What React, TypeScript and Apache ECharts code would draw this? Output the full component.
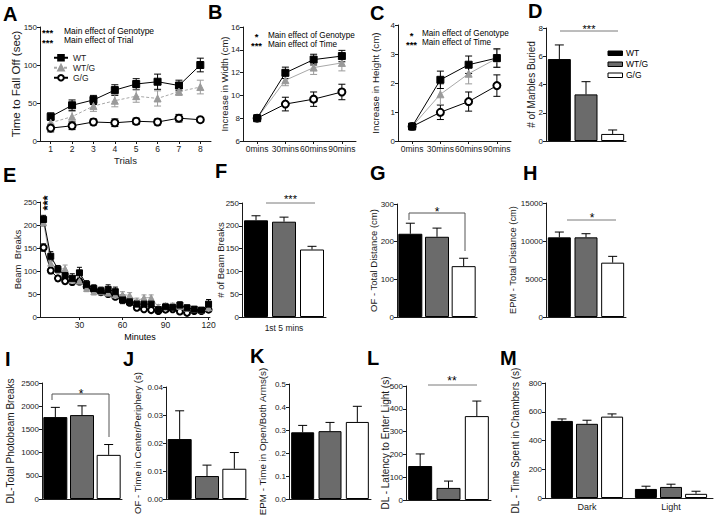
import React, { useEffect, useRef } from 'react';
import * as echarts from 'echarts';

const SANS = '"Liberation Sans", Arial, Helvetica, sans-serif';
const INK = '#1a1a1a';
const GRAYBAR = '#6b6b6b';

// ---------- data ----------
const groupNames = ['WT', 'WT/G', 'G/G'];
const barFills = ['#000000', GRAYBAR, '#ffffff'];

// A: rotarod
const rotaTrials = [1, 2, 3, 4, 5, 6, 7, 8];
const rotaWT = [32, 47, 54, 67, 75, 78, 73, 100];
const rotaWTErr = [5, 7, 6, 7, 7, 10, 7, 9];
const rotaWTG = [24, 32, 46, 53, 59, 56, 65, 71];
const rotaWTGErr = [5, 7, 7, 8, 8, 10, 5, 9];
const rotaGG = [17, 20, 25, 24, 26, 25, 30, 28];
const rotaGGErr = [5, 5, 4, 5, 4, 4, 5, 3];

// B / C: growth
const timeCats = ['0mins', '30mins', '60mins', '90mins'];
const widthWT = [8.0, 11.98, 13.14, 13.45];
const widthWTErr = [0.08, 0.5, 0.47, 0.5];
const widthWTG = [8.0, 11.33, 12.44, 12.85];
const widthWTGErr = [0.08, 0.48, 0.6, 0.7];
const widthGG = [8.0, 9.24, 9.67, 10.3];
const widthGGErr = [0.08, 0.6, 0.63, 0.68];
const heightWT = [0.5, 2.11, 2.63, 2.86];
const heightWTErr = [0.04, 0.3, 0.3, 0.32];
const heightWTG = [0.5, 1.61, 2.32, 2.85];
const heightWTGErr = [0.04, 0.35, 0.35, 0.3];
const heightGG = [0.5, 0.99, 1.36, 1.91];
const heightGGErr = [0.04, 0.25, 0.33, 0.37];

// D: marbles
const marbles = [5.8, 3.3, 0.5];
const marblesErr = [1.0, 0.9, 0.28];

// E: beam breaks over time
const minutes = [5, 10, 15, 20, 25, 30, 35, 40, 45, 50, 55, 60, 65, 70, 75, 80, 85, 90, 95, 100, 105, 110, 115, 120];
const beamWT = [212, 132, 104, 90, 84, 96, 71, 62, 57, 60, 55, 37, 33, 28, 28, 28, 16, 22, 21, 26, 20, 17, 15, 28];
const beamWTErr = [9, 10, 8, 10, 10, 12, 8, 8, 8, 10, 10, 8, 8, 8, 8, 8, 6, 6, 6, 7, 6, 6, 5, 10];
const beamWTG = [205, 117, 104, 105, 80, 78, 62, 55, 55, 52, 48, 49, 47, 35, 42, 42, 22, 25, 25, 23, 19, 17, 15, 20];
const beamWTGErr = [8, 8, 7, 8, 8, 8, 7, 7, 7, 7, 7, 6, 6, 6, 6, 6, 5, 5, 5, 5, 5, 5, 5, 6];
const beamGG = [151, 101, 84, 78, 76, 77, 66, 59, 54, 50, 44, 41, 31, 20, 17, 15, 13, 16, 17, 12, 9, 13, 13, 16];
const beamGGErr = [8, 7, 6, 6, 6, 6, 6, 6, 6, 6, 5, 5, 5, 5, 5, 5, 4, 4, 4, 4, 4, 4, 4, 5];

// F..L: single-measure bars (WT, WT/G, G/G)
const firstFive = [212, 209, 148];
const firstFiveErr = [10, 10, 7];
const ofDistance = [221, 213, 135];
const ofDistanceErr = [28, 23, 21];
const epmDistance = [10480, 10480, 7150];
const epmDistanceErr = [700, 480, 830];
const dlBreaks = [1765, 1808, 951];
const dlBreaksErr = [210, 200, 223];
const ofCenter = [0.0214, 0.0082, 0.0108];
const ofCenterErr = [0.0101, 0.0039, 0.0058];
const epmOpen = [0.29, 0.295, 0.335];
const epmOpenErr = [0.03, 0.038, 0.068];
const dlLatency = [149, 53, 368];
const dlLatencyErr = [53, 30, 66];

// M: chambers
const chamberCats = ['Dark', 'Light'];
const chamberWT = [536, 63];
const chamberWTErr = [14, 19];
const chamberWTG = [516, 77];
const chamberWTGErr = [25, 19];
const chamberGG = [566, 29];
const chamberGGErr = [19, 18];

// ---------- helpers ----------
function errRender(color: string, cap: number, both: boolean, step = 0) {
  return (params: any, api: any) => {
    const x = api.value(0);
    const v = api.value(1);
    const e = api.value(2);
    const k = step ? api.value(3) : 1;
    const top = api.coord([x, v + e]);
    const base = api.coord([x, both ? v - e : v]);
    const cx = top[0] + (k - 1) * step;
    const s = { stroke: color, lineWidth: 1 };
    const children: any[] = [
      { type: 'line', shape: { x1: cx, y1: top[1], x2: cx, y2: base[1] }, style: s },
      { type: 'line', shape: { x1: cx - cap, y1: top[1], x2: cx + cap, y2: top[1] }, style: s },
    ];
    if (both) children.push({ type: 'line', shape: { x1: cx - cap, y1: base[1], x2: cx + cap, y2: base[1] }, style: s });
    return { type: 'group', children };
  };
}

const plain = (v: number) => String(v);

function buildOption() {
  const grid: any[] = [];
  const xAxis: any[] = [];
  const yAxis: any[] = [];
  const series: any[] = [];
  const axisLine = { show: true, onZero: false, lineStyle: { color: INK, width: 1 } };
  const tick = { show: true, length: 3, lineStyle: { color: INK, width: 1 } };
  const label = { fontFamily: SANS, fontSize: 8, color: INK, margin: 3 };

  function panel(box: any, y: any, x: any) {
    const gi = grid.length;
    grid.push({ ...box, containLabel: false, outerBoundsMode: 'none' });
    xAxis.push({ gridIndex: gi, axisLine, splitLine: { show: false }, nameMoveOverlap: false, ...x });
    yAxis.push({
      type: 'value', gridIndex: gi, min: y.min, max: y.max, interval: y.interval,
      name: y.name, nameLocation: 'middle', nameGap: y.gap, nameRotate: 90, nameMoveOverlap: false,
      nameTextStyle: { fontFamily: SANS, fontSize: y.fs, color: INK },
      axisLine, axisTick: tick, axisLabel: { ...label, formatter: y.fmt || plain }, splitLine: { show: false },
    });
    return gi;
  }

  const catLineX = (cats: string[]) => ({
    type: 'category', data: cats, boundaryGap: true,
    axisTick: { ...tick, alignWithLabel: true }, axisLabel: { ...label, fontSize: 8.5, interval: 0 },
  });
  const barX = (extra: any = {}) => ({
    type: 'category', data: groupNames, axisTick: { show: false }, axisLabel: { show: false }, ...extra,
  });

  const styles: any = {
    WT: { symbol: 'rect', color: '#000', err: '#000', line: { color: '#000', width: 1 } },
    'WT/G': { symbol: 'triangle', color: '#9a9a9a', err: '#9a9a9a', line: { color: '#a8a8a8', width: 1 } },
    'G/G': { symbol: 'emptyCircle', color: '#000', err: '#000', line: { color: '#000', width: 1 } },
  };

  function lineSet(gi: number, name: string, xs: any[] | null, ys: number[], errs: number[], size: number, cap: number, lineType: any = 'solid') {
    const st = styles[name];
    series.push({
      type: 'custom', name: 'err-' + name + '-' + gi, xAxisIndex: gi, yAxisIndex: gi, z: 2, silent: true,
      data: ys.map((v, i) => [xs ? xs[i] : i, v, errs[i]]),
      renderItem: errRender(st.err, cap, true),
    });
    series.push({
      type: 'line', name, xAxisIndex: gi, yAxisIndex: gi, z: 3,
      data: xs ? ys.map((v, i) => [xs[i], v]) : ys,
      symbol: st.symbol, symbolSize: size, showAllSymbol: true,
      itemStyle: { color: st.color, borderColor: st.symbol === 'emptyCircle' ? '#000' : st.color, borderWidth: 1 },
      lineStyle: { ...st.line, type: lineType },
    });
  }

  function barSet(gi: number, vals: number[], errs: number[], width: number) {
    series.push({
      type: 'bar', name: 'bars-' + gi, xAxisIndex: gi, yAxisIndex: gi, z: 2, barWidth: width,
      data: vals.map((v, i) => ({ value: v, itemStyle: { color: barFills[i] } })),
      itemStyle: { borderColor: '#000', borderWidth: 1 },
    });
    series.push({
      type: 'custom', name: 'barerr-' + gi, xAxisIndex: gi, yAxisIndex: gi, z: 3, silent: true,
      data: vals.map((v, i) => [i, v, errs[i]]),
      renderItem: errRender('#000', 4.5, false),
    });
  }

  // A
  const gA = panel({ left: 40, top: 27, width: 171, height: 114 },
    { min: 0, max: 150, interval: 50, name: 'Time to Fall Off (sec)', gap: 18, fs: 11.5 },
    {
      type: 'value', min: 0.5, max: 8.5, name: 'Trials', nameLocation: 'middle', nameGap: 14,
      nameTextStyle: { fontFamily: SANS, fontSize: 9.5, color: INK },
      axisTick: { ...tick, customValues: rotaTrials }, axisLabel: { ...label, fontSize: 8.5, customValues: rotaTrials },
    });
  lineSet(gA, 'WT', rotaTrials, rotaWT, rotaWTErr, 7, 3.5);
  lineSet(gA, 'WT/G', rotaTrials, rotaWTG, rotaWTGErr, 7, 3.5, [3, 2]);
  lineSet(gA, 'G/G', rotaTrials, rotaGG, rotaGGErr, 7, 3.5);

  // B
  const gB = panel({ left: 243, top: 27, width: 113, height: 114 },
    { min: 6, max: 16, interval: 2, name: 'Increase in Width (cm)', gap: 14, fs: 9.5 }, catLineX(timeCats));
  lineSet(gB, 'G/G', null, widthGG, widthGGErr, 7, 3.5);
  lineSet(gB, 'WT/G', null, widthWTG, widthWTGErr, 7, 3.5);
  lineSet(gB, 'WT', null, widthWT, widthWTErr, 7, 3.5);

  // C
  const gC = panel({ left: 398, top: 25, width: 113, height: 116 },
    { min: 0, max: 4, interval: 1, name: 'Increase in Height (cm)', gap: 18, fs: 9.8 }, catLineX(timeCats));
  lineSet(gC, 'G/G', null, heightGG, heightGGErr, 7, 3.5);
  lineSet(gC, 'WT/G', null, heightWTG, heightWTGErr, 7, 3.5);
  lineSet(gC, 'WT', null, heightWT, heightWTErr, 7, 3.5);

  // D
  const gD = panel({ left: 546, top: 28, width: 80, height: 113 },
    { min: 0, max: 8, interval: 2, name: '# of Marbles Buried', gap: 10, fs: 10 }, barX());
  barSet(gD, marbles, marblesErr, 23);

  // E
  const eTicks = [30, 60, 90, 120];
  const gE = panel({ left: 40, top: 202, width: 170, height: 115 },
    { min: 0, max: 250, interval: 50, name: 'Beam  Breaks', gap: 18, fs: 9.5 },
    {
      type: 'value', min: 2.5, max: 121,
      axisTick: { ...tick, customValues: eTicks }, axisLabel: { ...label, fontSize: 8.5, customValues: eTicks },
    });
  lineSet(gE, 'G/G', minutes, beamGG, beamGGErr, 6, 2.5);
  lineSet(gE, 'WT/G', minutes, beamWTG, beamWTGErr, 6, 2.5);
  lineSet(gE, 'WT', minutes, beamWT, beamWTErr, 6, 2.5);

  // F
  const gF = panel({ left: 242, top: 203, width: 84, height: 114 },
    { min: 0, max: 250, interval: 50, name: '# of Beam Breaks', gap: 17, fs: 9.5 },
    barX({ name: '1st 5 mins', nameLocation: 'middle', nameGap: 6, nameTextStyle: { fontFamily: SANS, fontSize: 8.5, color: INK } }));
  barSet(gF, firstFive, firstFiveErr, 24);

  // G
  const gG = panel({ left: 397, top: 204, width: 80, height: 113 },
    { min: 0, max: 300, interval: 100, name: 'OF - Total Distance (cm)', gap: 19, fs: 9.5 }, barX());
  barSet(gG, ofDistance, ofDistanceErr, 24);

  // H
  const gH = panel({ left: 546, top: 203, width: 80, height: 114 },
    { min: 0, max: 15000, interval: 5000, name: 'EPM - Total Distance (cm)', gap: 29, fs: 9.3 }, barX());
  barSet(gH, epmDistance, epmDistanceErr, 23);

  // I
  const gI = panel({ left: 42, top: 383, width: 80, height: 116 },
    { min: 0, max: 2500, interval: 500, name: 'DL-Total Photobeam Breaks', gap: 27, fs: 10 }, barX());
  barSet(gI, dlBreaks, dlBreaksErr, 24);

  // J
  const gJ = panel({ left: 166, top: 387, width: 82, height: 112 },
    { min: 0, max: 0.04, interval: 0.01, name: 'OF - Time in Center/Periphery (s)', gap: 24, fs: 9.6, fmt: (v: number) => v.toFixed(2) }, barX());
  barSet(gJ, ofCenter, ofCenterErr, 24);

  // K
  const gK = panel({ left: 289, top: 384, width: 82, height: 115 },
    { min: 0, max: 0.5, interval: 0.1, name: 'EPM - Time in Open/Both Arms(s)', gap: 22, fs: 9.8, fmt: (v: number) => v.toFixed(1) }, barX());
  barSet(gK, epmOpen, epmOpenErr, 23);

  // L
  const gL = panel({ left: 406, top: 386, width: 85, height: 114 },
    { min: 0, max: 500, interval: 100, name: 'DL - Latency to Enter Light (s)', gap: 16, fs: 10 }, barX());
  barSet(gL, dlLatency, dlLatencyErr, 24);

  // M
  const gM = panel({ left: 545, top: 383, width: 168, height: 115 },
    { min: 0, max: 800, interval: 200, name: 'DL - Time Spent in Chambers (s)', gap: 25, fs: 10 },
    { type: 'category', data: chamberCats, axisTick: { show: false }, axisLabel: { ...label, fontSize: 9, margin: 4 } });
  const chamberSets = [[chamberWT, chamberWTErr], [chamberWTG, chamberWTGErr], [chamberGG, chamberGGErr]];
  chamberSets.forEach(([vals], k) => {
    series.push({
      type: 'bar', name: groupNames[k], xAxisIndex: gM, yAxisIndex: gM, z: 2, barWidth: 22, barGap: '14%',
      data: vals, itemStyle: { color: barFills[k], borderColor: '#000', borderWidth: 1 },
    });
  });
  chamberSets.forEach(([vals, errs], k) => {
    series.push({
      type: 'custom', name: 'chamberErr-' + k, xAxisIndex: gM, yAxisIndex: gM, z: 3, silent: true,
      data: vals.map((v, i) => [i, v, errs[i], k]),
      renderItem: errRender('#000', 4.5, false, 25),
    });
  });

  // ---------- graphics: panel letters, annotations, D legend ----------
  const g: any[] = [];
  const letter = (t: string, x: number, y: number) => g.push({
    type: 'text', x, y, silent: true,
    style: { text: t, font: 'bold 20px "Liberation Sans", Arial, sans-serif', fill: '#000', textVerticalAlign: 'top', verticalAlign: 'top' },
  });
  letter('A', 3, 4); letter('B', 208, 2); letter('C', 370, 3); letter('D', 528, 1);
  letter('E', 3, 165); letter('F', 215, 161); letter('G', 370, 163); letter('H', 523, 163);
  letter('I', 5, 349); letter('J', 123, 349); letter('K', 250, 346); letter('L', 367, 348); letter('M', 500, 348);

  const txt = (t: string, x: number, y: number, align = 'left', size = 8.5, weight = 'normal', lh?: number, rot = 0) => g.push({
    type: 'text', x, y, rotation: rot, silent: true,
    style: {
      text: t, fontFamily: SANS, fontSize: size, fontWeight: weight, fill: '#000', lineHeight: lh,
      textAlign: align, align, textVerticalAlign: 'middle', verticalAlign: 'middle',
    },
  });
  const seg = (x1: number, y1: number, x2: number, y2: number, c = '#7a7a7a') => g.push({
    type: 'line', silent: true, shape: { x1, y1, x2, y2 }, style: { stroke: c, lineWidth: 1 },
  });
  const bracket = (pts: number[][]) => g.push({
    type: 'polyline', silent: true, shape: { points: pts }, style: { stroke: '#555', lineWidth: 1, fill: null },
  });

  // A annotations
  txt('***\n***', 42, 37.5, 'left', 9.5, 'bold', 9.5);
  txt('Main effect of Genotype\nMain effect of Trial', 64, 35.5, 'left', 8.5, 'normal', 9);
  // B annotations
  txt('*\n***', 256.5, 41, 'center', 9.5, 'bold', 9.5);
  txt('Main effect of Genotype\nMain effect of Time', 268, 39.5, 'left', 8.2, 'normal', 9);
  // C annotations
  txt('*\n***', 411.5, 40, 'center', 9.5, 'bold', 9.5);
  txt('Main effect of Genotype\nMain effect of Time', 422, 38.2, 'left', 8.2, 'normal', 8.6);

  // D legend
  const legY = [51, 62, 73];
  groupNames.forEach((n, i) => {
    g.push({ type: 'rect', silent: true, shape: { x: 608, y: legY[i], width: 14.5, height: 4.5 }, style: { fill: barFills[i], stroke: '#000', lineWidth: 1 } });
  });
  txt(groupNames.join('\n'), 626, 64, 'left', 8.5, 'normal', 11);

  // significance marks
  seg(560, 31, 618, 31); txt('***', 589, 29, 'center', 11);
  seg(266, 203, 315, 203); txt('***', 290.5, 199, 'center', 11);
  bracket([[409, 220], [409, 213], [465, 213], [465, 251]]); txt('*', 437, 212, 'center', 12);
  seg(567, 220, 616, 220); txt('*', 592, 218, 'center', 12);
  bracket([[52, 400], [52, 394], [109, 394], [109, 437]]); txt('*', 81, 394, 'center', 12);
  seg(428, 385, 477, 385); txt('**', 452, 381, 'center', 12);

  // E stacked asterisks (one rotated string) and x name
  txt('***', 47, 203, 'center', 13, 'bold', undefined, Math.PI / 2);
  txt('Minutes', 140, 337, 'center', 9);

  return {
    animation: false,
    backgroundColor: '#ffffff',
    textStyle: { fontFamily: SANS },
    grid, xAxis, yAxis, series,
    legend: {
      data: ['WT', 'WT/G', 'G/G'], left: 53, top: 53, orient: 'vertical', selectedMode: false,
      itemWidth: 14, itemHeight: 7, itemGap: 0.5, padding: 0,
      textStyle: { fontFamily: SANS, fontSize: 8.5, color: INK, lineHeight: 9.5 },
    },
    graphic: g,
  };
}

export default function App() {
  const ref = useRef<HTMLDivElement>(null);
  useEffect(() => {
    document.body.style.margin = '0';
    const chart = echarts.init(ref.current!, null, { renderer: 'svg', width: 720, height: 516 });
    chart.setOption(buildOption() as any);
    return () => chart.dispose();
  }, []);
  return <div ref={ref} style={{ width: 720, height: 516, background: '#fff' }} />;
}
